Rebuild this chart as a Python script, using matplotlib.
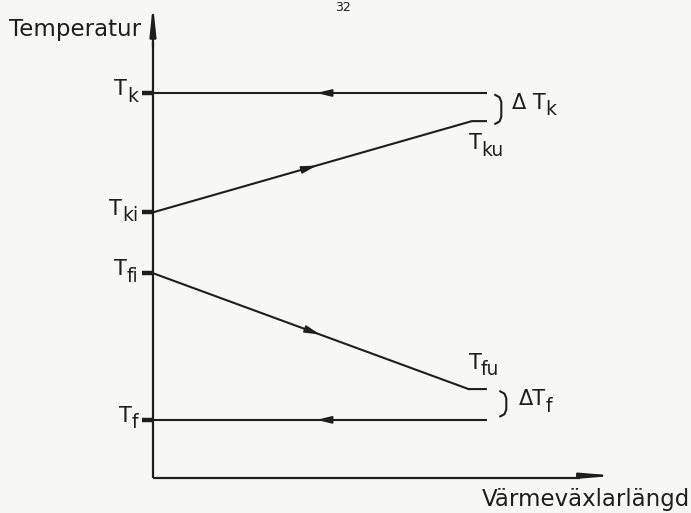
import matplotlib
matplotlib.use("Agg")
import matplotlib.pyplot as plt
from matplotlib.transforms import offset_copy
import numpy as np

# ---- data (arbitrary temperature units, relative length 0..1) ----
length_hot = [0.0, 0.955, 1.0]
temp_hot = [69.0, 92.7, 92.7]          # Tki -> Tku
length_cold = [0.0, 0.945, 1.0]
temp_cold = [53.2, 23.1, 23.1]         # Tfi -> Tfu
length_cond = [0.0, 1.0]
temp_cond = [100.0, 100.0]             # Tk
length_evap = [0.0, 1.0]
temp_evap = [15.1, 15.1]               # Tf

tick_values = [100.0, 69.0, 53.2, 15.1]
tick_labels = ["k", "ki", "fi", "f"]

ink = "#1e1e1e"
bg = "#f7f7f5"
fig = plt.figure(figsize=(6.91, 5.13), dpi=100, facecolor=bg)
ax = fig.add_axes([0, 0, 1, 1])
ax.set_facecolor(bg)
ax.set_xlim(-0.458, 1.611)
ax.set_ylim(-9.09, 124.16)
ax.axis("off")
fig.canvas.draw()
renderer = fig.canvas.get_renderer()

BASE = 15
SUB = 13.5
SUBDROP = 5  # points
GAP = -0.3   # points

def sub_label(x, y, prefix, sub, ha):
    if ha == "right":
        ts = ax.text(x, y, sub, ha="right", va="center", fontsize=SUB, color=ink,
                     transform=offset_copy(ax.transData, fig=fig, x=0, y=-SUBDROP, units="points"))
        w = ts.get_window_extent(renderer).width * 72 / fig.dpi
        ax.text(x, y, prefix, ha="right", va="center", fontsize=BASE, color=ink,
                transform=offset_copy(ax.transData, fig=fig, x=-w - GAP, y=0, units="points"))
    else:
        tp = ax.text(x, y, prefix, ha="left", va="center", fontsize=BASE, color=ink)
        w = tp.get_window_extent(renderer).width * 72 / fig.dpi
        ax.text(x, y, sub, ha="left", va="center", fontsize=SUB, color=ink,
                transform=offset_copy(ax.transData, fig=fig, x=w + GAP, y=-SUBDROP, units="points"))

# axes with arrows
ax.plot([0, 0], [0, 113], color=ink, lw=1.6, solid_capstyle="butt")
ax.annotate("", xy=(0, 123.0), xytext=(0, 112),
            arrowprops=dict(arrowstyle="-|>,head_length=1.7,head_width=0.18",
                            color=ink, lw=1.6, shrinkA=0, shrinkB=0))
ax.plot([0, 1.28], [0, 0], color=ink, lw=1.6, solid_capstyle="butt")
ax.annotate("", xy=(1.385, 0.6), xytext=(1.28, 0.6),
            arrowprops=dict(arrowstyle="-|>,head_length=1.8,head_width=0.15",
                            color=ink, lw=1.6, shrinkA=0, shrinkB=0))

# lines
for L, T in [(length_cond, temp_cond), (length_hot, temp_hot),
             (length_cold, temp_cold), (length_evap, temp_evap)]:
    ax.plot(L, T, color=ink, lw=1.5, solid_capstyle="butt")

def mid_arrow(L, T, pos, direction):
    Tp = np.interp(pos, L, T)
    d = 0.03 * direction
    Tq = np.interp(pos + d, L, T)
    ax.annotate("", xy=(pos + d, Tq), xytext=(pos, Tp),
                arrowprops=dict(arrowstyle="-|>,head_length=0.9,head_width=0.22",
                                color=ink, lw=1.2, shrinkA=0, shrinkB=0))

mid_arrow(length_cond, temp_cond, 0.52, -1)
mid_arrow(length_hot, temp_hot, 0.46, 1)
mid_arrow(length_cold, temp_cold, 0.47, 1)
mid_arrow(length_evap, temp_evap, 0.52, -1)

# ticks and labels on y axis
for v, lab in zip(tick_values, tick_labels):
    ax.plot([-0.033, 0], [v, v], color=ink, lw=3.2, solid_capstyle="butt")
    sub_label(-0.045, v + 1.0, "T", lab, "right")

# end labels
sub_label(0.945, 87.0, "T", "ku", "left")
sub_label(0.945, 30.0, "T", "fu", "left")

# brackets
def bracket(x, top, bot):
    w = 0.018
    h = 1.2
    xs = [x, x + w * 0.7, x + w, x + w, x + w * 0.7, x]
    ys = [top, top - h * 0.5, top - h * 1.5, bot + h * 1.5, bot + h * 0.5, bot]
    ax.plot(xs, ys, color=ink, lw=1.5)

bracket(1.025, 99.5, 92.0)
sub_label(1.075, 97.5, "\u0394 T", "k", "left")
bracket(1.04, 22.5, 16.0)
sub_label(1.095, 20.5, "\u0394T", "f", "left")

# axis titles
ax.text(-0.432, 116.5, "Temperatur", ha="left", va="center", fontsize=16.5, color=ink)
ax.text(1.608, -5.6, "Värmeväxlarlängd", ha="right", va="center", fontsize=16.5, color=ink)

# page number at the top edge
ax.text(0.57, 124.0, "32", ha="center", va="top", fontsize=9, color=ink)

fig.savefig("out.png", dpi=100, facecolor=fig.get_facecolor())
